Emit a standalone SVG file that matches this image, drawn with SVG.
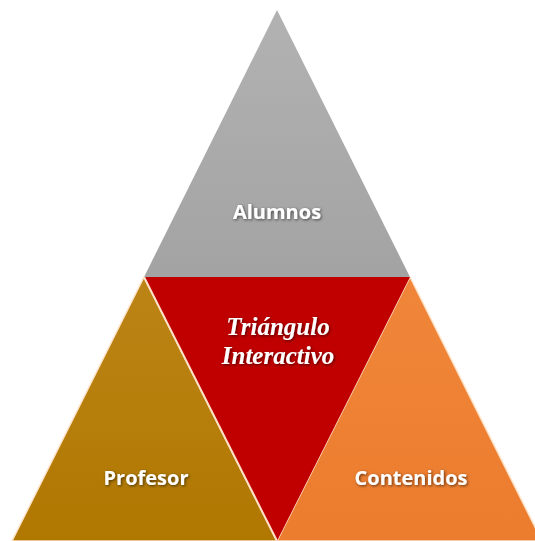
<svg xmlns="http://www.w3.org/2000/svg" width="535" height="541" viewBox="0 0 535 541">
  <defs>
    <linearGradient id="gGrey" x1="0" y1="0" x2="0" y2="1">
      <stop offset="0" stop-color="#b2b2b2"/>
      <stop offset="1" stop-color="#a3a3a3"/>
    </linearGradient>
    <linearGradient id="gGold" x1="0" y1="0" x2="0" y2="1">
      <stop offset="0" stop-color="#bc8416"/>
      <stop offset="1" stop-color="#b07800"/>
    </linearGradient>
    <linearGradient id="gOrange" x1="0" y1="0" x2="0" y2="1">
      <stop offset="0" stop-color="#f0863a"/>
      <stop offset="1" stop-color="#ec7c2e"/>
    </linearGradient>
    <filter id="shadow" x="-20%" y="-40%" width="140%" height="180%">
      <feGaussianBlur in="SourceAlpha" stdDeviation="1.5"/>
      <feOffset dx="1" dy="1" result="b"/>
      <feFlood flood-color="#000" flood-opacity="0.6"/>
      <feComposite in2="b" operator="in"/>
      <feMerge><feMergeNode/><feMergeNode in="SourceGraphic"/></feMerge>
    </filter>
  </defs>
  <style>
    .lbl { font-family: "Open Sans", "Liberation Sans", sans-serif; font-weight: bold; font-size: 20px; fill: #ffffff; text-anchor: middle; }
    .script { font-family: "Liberation Serif", "DejaVu Serif", serif; font-style: italic; font-weight: bold; font-size: 25px; fill: #ffffff; text-anchor: middle; }
    .edge { stroke: #fde2c8; stroke-width: 1.5; stroke-linejoin: round; }
  </style>
  <g id="alumnos">
    <polygon points="277,10 144,277 410,277" fill="url(#gGrey)"/>
    <text class="lbl" x="277" y="219" filter="url(#shadow)">Alumnos</text>
  </g>
  <g id="profesor">
    <polygon points="144,277 12,541 277,541" fill="url(#gGold)" class="edge"/>
    <text class="lbl" x="146" y="485" filter="url(#shadow)">Profesor</text>
  </g>
  <g id="contenidos">
    <polygon points="410,277 277,541 542,541" fill="url(#gOrange)" class="edge"/>
    <text class="lbl" x="411" y="485" filter="url(#shadow)">Contenidos</text>
  </g>
  <g id="triangulo">
    <polygon points="144,277 410,277 277,541" fill="#c00000"/>
    <line x1="144" y1="277" x2="277" y2="541" stroke="#fde2c8" stroke-width="2"/>
    <text class="script" x="278" y="335" filter="url(#shadow)">Triángulo</text>
    <text class="script" x="278" y="364" filter="url(#shadow)">Interactivo</text>
  </g>
</svg>
